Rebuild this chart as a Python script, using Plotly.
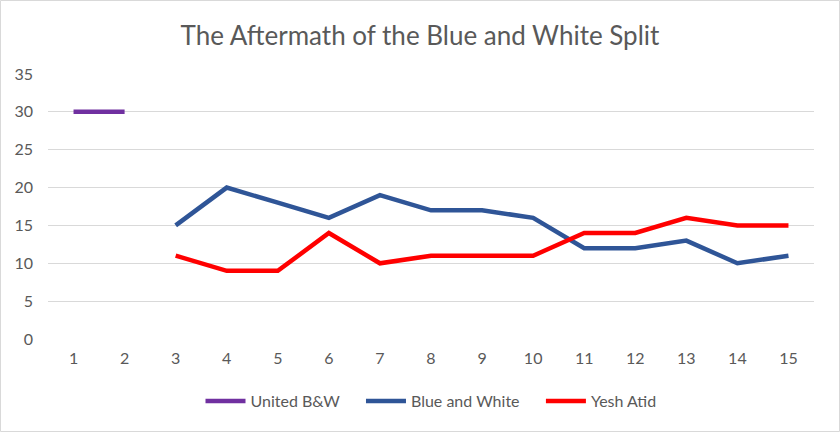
import plotly.graph_objects as go

categories = [str(i) for i in range(1, 16)]
united_bw = [30, 30] + [None] * 13
blue_white = [None, None, 15, 20, 18, 16, 19, 17, 17, 16, 12, 12, 13, 10, 11]
yesh_atid = [None, None, 11, 9, 9, 14, 10, 11, 11, 11, 14, 14, 16, 15, 15]
y_ticks = [0, 5, 10, 15, 20, 25, 30, 35]
series_names = ["United B&W", "Blue and White", "Yesh Atid"]

pad = "\u00a0" * 4
x = list(range(1, 16))
fig = go.Figure()
for i, (name, vals, col) in enumerate(zip(series_names, [united_bw, blue_white, yesh_atid],
                                          ["#7030A0", "#2F5597", "#FF0000"])):
    label = name + (pad if i < 2 else "")
    fig.add_trace(go.Scatter(x=x, y=vals, name=label, mode="lines",
                             line=dict(color=col, width=4.5), connectgaps=False))

fig.update_layout(
    width=840, height=432,
    margin=dict(l=48, r=26, t=74, b=93),
    paper_bgcolor="white", plot_bgcolor="white",
    font=dict(family="Lato, Open Sans, sans-serif", color="#595959", size=16),
    title=dict(text="The Aftermath of the Blue and White Split", x=0.5, xanchor="center",
               y=0.918, yanchor="middle", font=dict(size=26, color="#595959")),
    xaxis=dict(range=[0.5, 15.5], tickvals=x, ticktext=categories, showgrid=False,
               zeroline=False, showline=False, ticks="", ticklabelstandoff=8),
    yaxis=dict(range=[0, 35], tickvals=y_ticks, showgrid=True, gridcolor="#D9D9D9",
               gridwidth=1, zeroline=False, showline=False, ticks="", ticklabelstandoff=14),
    legend=dict(orientation="h", x=0.5, xanchor="center", y=-0.17, yanchor="top",
                font=dict(size=16, color="#595959"), itemwidth=40, traceorder="normal"),
    showlegend=True,
)
fig.add_shape(type="rect", xref="paper", yref="paper",
              x0=-47.5/766, x1=(839.5-48)/766, y0=-92.5/265, y1=(73.5+265)/265,
              line=dict(color="#D9D9D9", width=1), layer="below")
fig.write_html("out.html", config={"displayModeBar": False},
               post_script="document.body.style.margin='0';")
